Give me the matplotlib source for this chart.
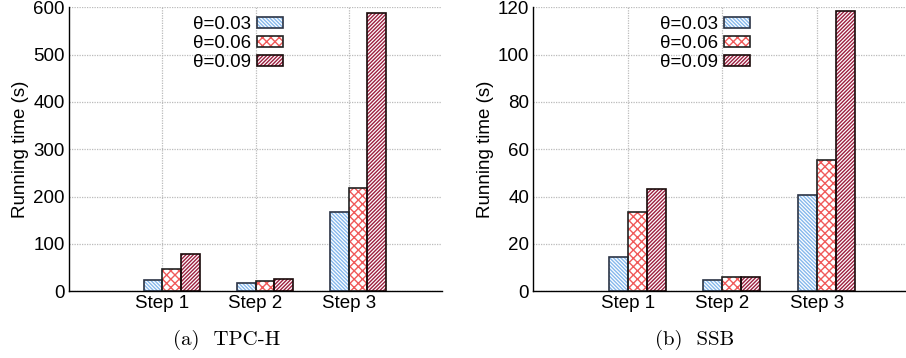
import matplotlib.pyplot as plt
from matplotlib.patches import Patch
import numpy as np

steps = ["Step 1", "Step 2", "Step 3"]
thetas = ["θ=0.03", "θ=0.06", "θ=0.09"]

tpch = [
    [24, 17, 167],    # theta 0.03
    [48, 22, 218],    # theta 0.06
    [78, 27, 587],    # theta 0.09
]
ssb = [
    [14.7, 4.9, 40.5],
    [33.5, 6.2, 55.3],
    [43.2, 6.0, 118.5],
]

hatch_colors = ["#86b8ec", "#f05a5a", "#9c2040"]
hatches = ["\\" * 9, "xxxx", "/" * 9]
edge_colors = ["#2b3445", "#222222", "#1a0a0a"]

plt.rcParams['font.family'] = ['Liberation Sans', 'DejaVu Sans']
plt.rcParams['hatch.linewidth'] = 1.0

W, H = 906, 358
FS = 13.5
fig = plt.figure(figsize=(W / 100, H / 100), dpi=100)


def panel(left_px, width_px, data, ymax, yticks, caption, cap_x):
    bottom_px = H - 291.3
    ax = fig.add_axes([left_px / W, bottom_px / H, width_px / W, 284 / H])
    x = np.arange(1, len(steps) + 1)
    bw = 0.2
    for i, vals in enumerate(data):
        pos = x + (i - 0.5) * bw
        ax.bar(pos, vals, bw, color="white", edgecolor=hatch_colors[i],
               hatch=hatches[i], linewidth=0, zorder=2)
        ax.bar(pos, vals, bw, fill=False, edgecolor=edge_colors[i],
               linewidth=1.2, zorder=3)
    ax.set_xlim(0, 4)
    ax.set_ylim(0, ymax)
    ax.set_yticks(yticks)
    ax.set_xticks(x)
    ax.set_xticklabels(steps)
    ax.tick_params(length=0, labelsize=FS, pad=3)
    ax.set_ylabel("Running time (s)", fontsize=FS, labelpad=3)
    ax.grid(True, color="#bbbbbb", linestyle=(0, (1, 1)), linewidth=0.9)
    ax.set_axisbelow(True)
    for s in ["top", "right"]:
        ax.spines[s].set_visible(False)
    ax.spines["left"].set_linewidth(1.0)
    ax.spines["bottom"].set_linewidth(1.0)

    handles = []
    for i in range(3):
        h1 = Patch(facecolor="white", edgecolor=hatch_colors[i],
                   hatch=hatches[i], linewidth=0)
        h2 = Patch(fill=False, edgecolor=edge_colors[i], linewidth=1.2)
        handles.append((h1, h2))
    ax.legend(handles, thetas, loc="upper right", bbox_to_anchor=(0.574, 0.97),
              frameon=False, markerfirst=False, fontsize=FS,
              borderpad=0, borderaxespad=0, handlelength=1.4,
              handleheight=0.5, handletextpad=0.3, labelspacing=0.12)
    fig.text(cap_x / W, 1 - 340 / H, caption, family="cmr10", fontsize=15,
             ha="center", va="center")
    return ax


panel(69, 373, tpch, 600, range(0, 601, 100), "(a)  TPC-H", 227)
panel(533.3, 378, ssb, 120, range(0, 121, 20), "(b)  SSB", 695)

fig.savefig("out.png", dpi=100)
